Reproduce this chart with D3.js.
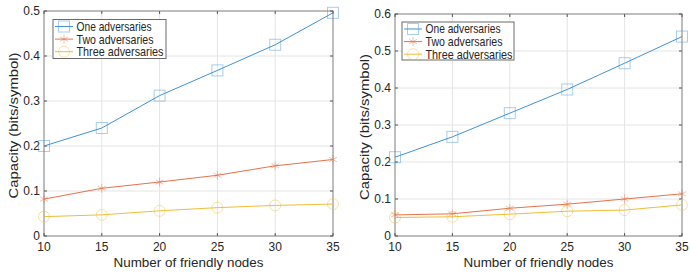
<!DOCTYPE html>
<html>
<head>
<meta charset="utf-8">
<script src="https://cdn.jsdelivr.net/npm/d3@7"></script>
<style>
  body { margin: 0; background: #fff; }
  svg { display: block; font-family: "Liberation Sans", Arial, sans-serif; }
</style>
</head>
<body>
<div id="chart"></div>
<script>
// data
const nodes = [10, 15, 20, 25, 30, 35];
const seriesNames = ['One adversaries', 'Two adversaries', 'Three adversaries'];

const leftOne = [0.200, 0.240, 0.312, 0.368, 0.425, 0.496];
const leftTwo = [0.082, 0.106, 0.120, 0.135, 0.156, 0.170];
const leftThree = [0.043, 0.047, 0.056, 0.063, 0.068, 0.071];

const rightOne = [0.213, 0.268, 0.332, 0.396, 0.467, 0.539];
const rightTwo = [0.057, 0.060, 0.075, 0.086, 0.100, 0.114];
const rightThree = [0.050, 0.052, 0.059, 0.067, 0.070, 0.084];

const leftYTicks = [0, 0.1, 0.2, 0.3, 0.4, 0.5];
const rightYTicks = [0, 0.1, 0.2, 0.3, 0.4, 0.5, 0.6];

const colors = ['#3f93d8', '#e8714a', '#f0bd3a'];
const markers = ['square', 'star', 'circle'];
// widths the reference font takes (it is wider than Arial)
const legendWidths = [75, 77, 87];

const W = 691, H = 276;
const svg = d3.select('#chart').append('svg')
    .attr('width', W).attr('height', H);

function drawPanel(p) {
    const x = d3.scaleLinear().domain([10, 35]).range([p.x0, p.x1]);
    const y = d3.scaleLinear().domain([0, p.ymax]).range([p.y1, p.y0]);
    const g = svg.append('g');

    // grid
    g.selectAll('.vg').data(nodes).enter().append('line')
        .attr('x1', d => x(d)).attr('x2', d => x(d))
        .attr('y1', p.y0).attr('y2', p.y1)
        .attr('stroke', '#e4e4e4').attr('stroke-width', 1);
    g.selectAll('.hg').data(p.yTicks).enter().append('line')
        .attr('x1', p.x0).attr('x2', p.x1)
        .attr('y1', d => y(d)).attr('y2', d => y(d))
        .attr('stroke', '#e4e4e4').attr('stroke-width', 1);

    // box
    g.append('rect')
        .attr('x', p.x0).attr('y', p.y0)
        .attr('width', p.x1 - p.x0).attr('height', p.y1 - p.y0)
        .attr('fill', 'none').attr('stroke', '#8a8a8a').attr('stroke-width', 1);

    // ticks inward
    const tl = 3;
    nodes.forEach(d => {
        g.append('line').attr('x1', x(d)).attr('x2', x(d)).attr('y1', p.y1).attr('y2', p.y1 - tl).attr('stroke', '#555');
        g.append('line').attr('x1', x(d)).attr('x2', x(d)).attr('y1', p.y0).attr('y2', p.y0 + tl).attr('stroke', '#555');
    });
    p.yTicks.forEach(d => {
        g.append('line').attr('x1', p.x0).attr('x2', p.x0 + tl).attr('y1', y(d)).attr('y2', y(d)).attr('stroke', '#555');
        g.append('line').attr('x1', p.x1).attr('x2', p.x1 - tl).attr('y1', y(d)).attr('y2', y(d)).attr('stroke', '#555');
    });

    // tick labels
    g.selectAll('.xl').data(nodes).enter().append('text')
        .attr('x', d => x(d)).attr('y', p.y1 + 15)
        .attr('text-anchor', 'middle').attr('font-size', 12).attr('fill', '#262626')
        .text(d => d);
    g.selectAll('.yl').data(p.yTicks).enter().append('text')
        .attr('x', p.x0 - 4).attr('y', d => y(d) + 4.3)
        .attr('text-anchor', 'end').attr('font-size', 12).attr('fill', '#262626')
        .text(d => d === 0 ? '0' : d3.format('.1f')(d));

    // axis titles
    g.append('text')
        .attr('x', (p.x0 + p.x1) / 2 - 75).attr('y', p.y1 + 30.5)
        .attr('font-size', 12.5).attr('fill', '#262626')
        .attr('textLength', 150).attr('lengthAdjust', 'spacingAndGlyphs')
        .text('Number of friendly nodes');
    g.append('text')
        .attr('transform', `translate(${p.ytx},${(p.y0 + p.y1) / 2 + 2 + 73}) rotate(-90)`)
        .attr('font-size', 12.5).attr('fill', '#262626')
        .attr('textLength', 146).attr('lengthAdjust', 'spacingAndGlyphs')
        .text('Capacity (bits/symbol)');

    // series
    const line = d3.line().x((d, i) => x(nodes[i])).y(d => y(d));
    p.series.forEach((s, k) => {
        g.append('path').datum(s)
            .attr('d', line).attr('fill', 'none')
            .attr('stroke', colors[k]).attr('stroke-width', 1);
        s.forEach((v, i) => drawMarker(g, markers[k], x(nodes[i]), y(v), colors[k], 0.45));
    });

    // legend
    const L = p.legend;
    g.append('rect')
        .attr('x', L.x).attr('y', L.y).attr('width', L.w).attr('height', L.h)
        .attr('fill', '#fff').attr('stroke', '#6a6a6a').attr('stroke-width', 1);
    seriesNames.forEach((name, k) => {
        const yy = L.y + 7 + k * 12.6;
        g.append('line')
            .attr('x1', L.x + 2).attr('x2', L.x + 20)
            .attr('y1', yy).attr('y2', yy)
            .attr('stroke', colors[k]).attr('stroke-width', 1);
        drawMarker(g, markers[k], L.x + 11, yy, colors[k], 0.45);
        g.append('text')
            .attr('x', L.x + 23.5).attr('y', yy + 4.4)
            .attr('font-size', 12.2).attr('fill', '#262626')
            .attr('textLength', legendWidths[k]).attr('lengthAdjust', 'spacingAndGlyphs')
            .text(name);
    });
}

function drawMarker(g, type, cx, cy, color, op) {
    if (type === 'square') {
        const s = 11;
        g.append('rect').attr('x', cx - s / 2).attr('y', cy - s / 2)
            .attr('width', s).attr('height', s)
            .attr('fill', 'none').attr('stroke', color).attr('stroke-opacity', op);
    } else if (type === 'circle') {
        g.append('circle').attr('cx', cx).attr('cy', cy).attr('r', 5.5)
            .attr('fill', 'none').attr('stroke', color).attr('stroke-opacity', op);
    } else {
        const r = 4.5;
        const segs = [[0, r], [r * 0.87, r * 0.5], [r * 0.87, -r * 0.5]];
        segs.forEach(([dx, dy]) => {
            g.append('line')
                .attr('x1', cx - dx).attr('y1', cy - dy)
                .attr('x2', cx + dx).attr('y2', cy + dy)
                .attr('stroke', color).attr('stroke-opacity', op);
        });
    }
}

drawPanel({
    x0: 44, x1: 333, y0: 11, y1: 236, ymax: 0.5, yTicks: leftYTicks, ytx: 18,
    series: [leftOne, leftTwo, leftThree],
    legend: {x: 53, y: 19.5, w: 113, h: 39}
});
drawPanel({
    x0: 395, x1: 682, y0: 14, y1: 236, ymax: 0.6, yTicks: rightYTicks, ytx: 369,
    series: [rightOne, rightTwo, rightThree],
    legend: {x: 402, y: 22, w: 112, h: 38}
});
</script>
</body>
</html>
